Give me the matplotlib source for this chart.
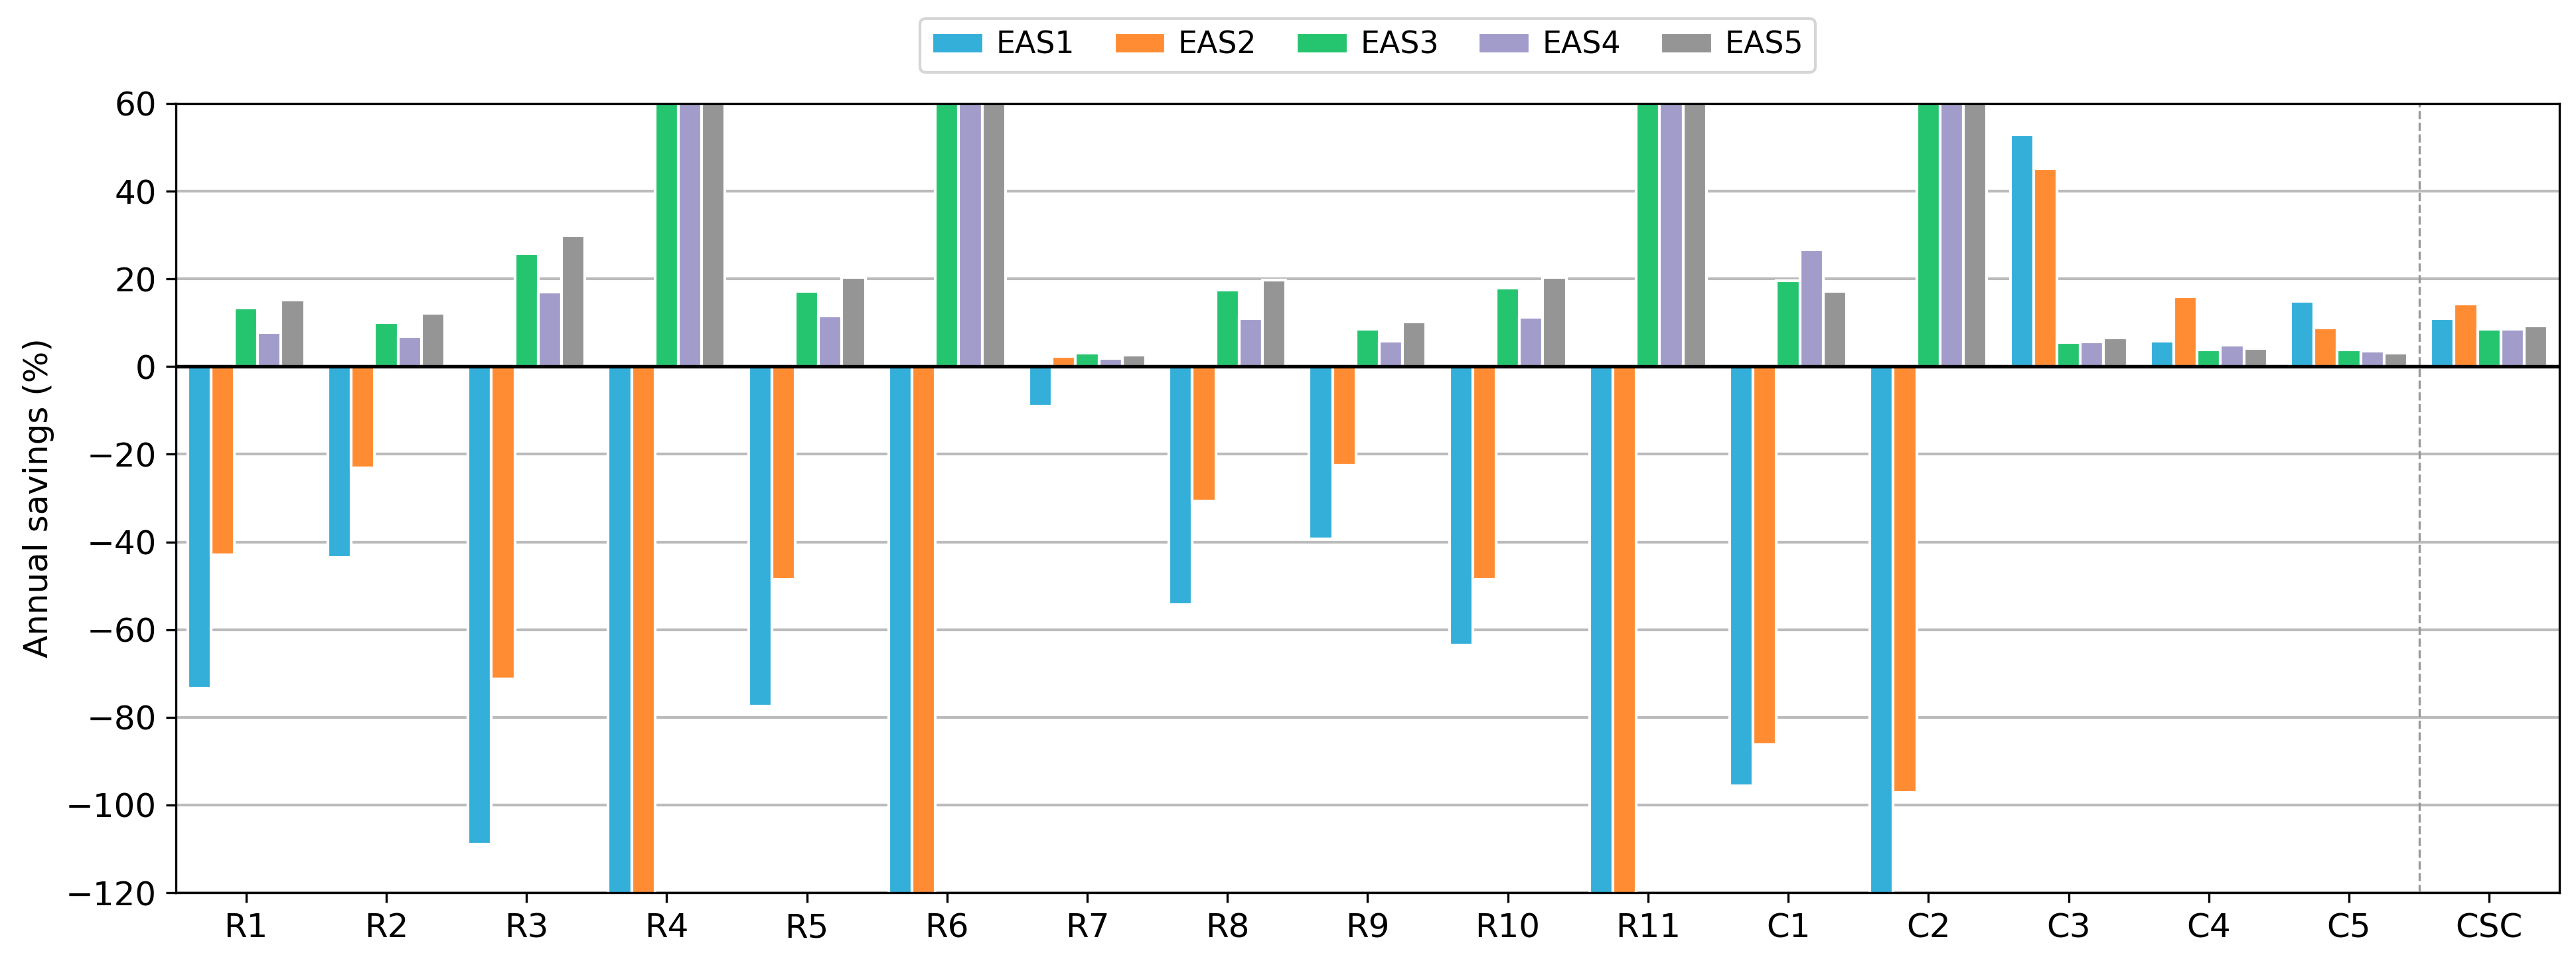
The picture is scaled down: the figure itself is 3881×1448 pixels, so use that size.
import numpy as np
import matplotlib
matplotlib.use('Agg')
import matplotlib.pyplot as plt

# --- data (clipped bars run past the axis limits) ---
cases = ['R1', 'R2', 'R3', 'R4', 'R5', 'R6', 'R7', 'R8', 'R9', 'R10', 'R11',
         'C1', 'C2', 'C3', 'C4', 'C5', 'CSC']
series = ['EAS1', 'EAS2', 'EAS3', 'EAS4', 'EAS5']

eas1 = [-73.3, -43.6, -108.9, -160, -77.5, -150, -9.0, -54.3, -39.3, -63.6, -170,
        -95.6, -135, 52.9, 5.8, 14.9, 11.0]
eas2 = [-42.9, -23.1, -71.2, -140, -48.6, -130, 2.3, -30.7, -22.5, -48.5, -150,
        -86.3, -97.1, 45.2, 15.9, 8.9, 14.3]
eas3 = [13.4, 10.1, 25.8, 80, 17.2, 75, 3.1, 17.4, 8.6, 17.9, 90,
        19.6, 70, 5.5, 3.8, 3.8, 8.6]
eas4 = [7.8, 6.8, 17.0, 70, 11.5, 65, 1.8, 10.9, 5.8, 11.3, 80,
        26.7, 65, 5.7, 4.9, 3.6, 8.5]
eas5 = [15.2, 12.2, 29.9, 90, 20.3, 85, 2.6, 19.7, 10.2, 20.4, 100,
        17.1, 75, 6.5, 4.2, 3.1, 9.3]

colors = ['#33AFD9', '#FF8C33', '#25C56F', '#A19CCA', '#959595']

fig = plt.figure(figsize=(3881 / 300, 1448 / 300), dpi=300)
ax = fig.add_axes([0.0683, 0.0711, 0.9252, 0.8212])

x = np.arange(len(cases))
w = 1 / 6
for i, (name, vals) in enumerate(zip(series, [eas1, eas2, eas3, eas4, eas5])):
    ax.bar(x + (i - 2) * w, vals, width=w, color=colors[i], label=name,
           edgecolor='white', linewidth=1.0, zorder=2)

ax.axhline(0, color='black', linewidth=1.3, zorder=3)
ax.axvline(15.5, color='#999999', linewidth=0.8, linestyle='--', zorder=1)

ax.set_xlim(-0.5, len(cases) - 0.5)
ax.set_ylim(-120, 60)
ax.set_yticks(np.arange(-120, 61, 20))
ax.set_xticks(x)
ax.set_xticklabels(cases, fontsize=12)
ax.tick_params(axis='y', labelsize=12)
ax.yaxis.grid(True, color='#bbbbbb', linewidth=1.0)
ax.set_axisbelow(True)
ax.set_ylabel('Annual savings (%)', fontsize=12)

ax.legend(loc='lower center', bbox_to_anchor=(0.5, 1.02), ncol=5,
          fontsize=11, handlelength=1.7, handletextpad=0.4,
          columnspacing=1.3, frameon=True)

fig.savefig('out.png', dpi=300)
